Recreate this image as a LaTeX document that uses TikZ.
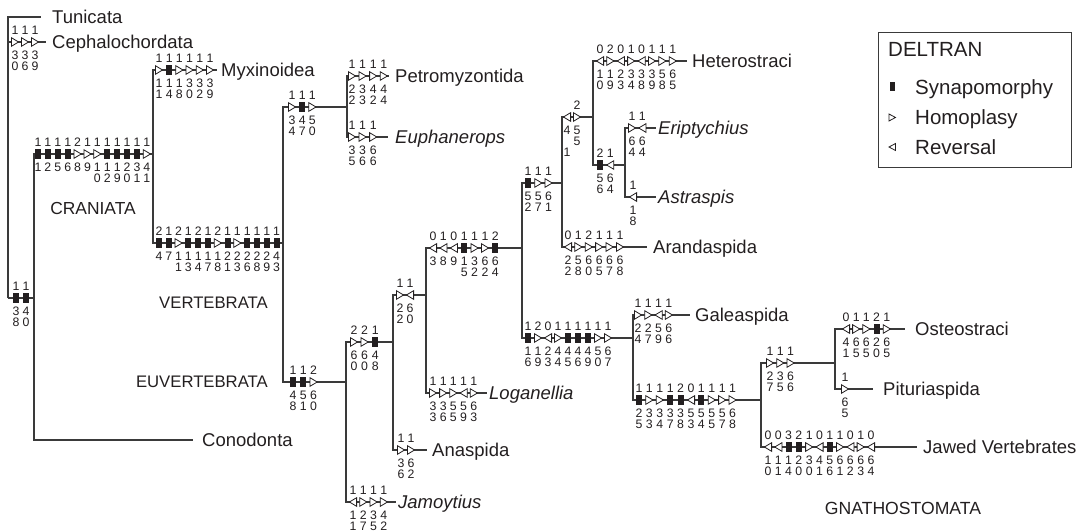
\documentclass[tikz,border=0pt]{standalone}
\usepackage{fontspec}
\setmainfont{Liberation Sans}
\definecolor{ink}{HTML}{231F20}
\definecolor{linec}{HTML}{3A3A3A}
% character-state markers: synapomorphy, homoplasy, reversal
\newcommand\mkS[2]{\fill[mk] ({#1-3},{#2-5}) rectangle ({#1+3},{#2+5});}
\newcommand\mkH[2]{\filldraw[mko] ({#1-3.6},{#2-4.3}) -- ({#1+3.6},{#2}) -- ({#1-3.6},{#2+4.3}) -- cycle;}
\newcommand\mkR[2]{\filldraw[mko] ({#1+3.6},{#2-4.3}) -- ({#1-3.6},{#2}) -- ({#1+3.6},{#2+4.3}) -- cycle;}
% a run of markers along a branch: first x, y, spacing, list type/state/digit1/digit2
\newcommand\charrow[4]{%
  \foreach \mt/\ms/\ma/\mb [count=\k from 0] in {#4}{%
    \pgfmathsetmacro\xx{#1+#3*\k}%
    \csname mk\mt\endcsname{\xx}{#2}%
    \node[dig] at (\xx,{#2-12}) {\ms};%
    \node[dig] at (\xx,{#2+13}) {\ma};%
    \node[dig] at (\xx,{#2+24.5}) {\mb};%
  }}
\begin{document}
\begin{tikzpicture}[x=1pt,y=-1pt,
  ln/.style={line width=1.1pt,draw=linec},
  mk/.style={fill=ink},
  mko/.style={draw=ink,fill=white,line width=0.8pt,line join=miter},
  dig/.style={font=\fontsize{12.3}{12}\selectfont,inner sep=0pt,text height=8.8pt,text depth=0pt,text=ink},
  leaf/.style={anchor=west,inner sep=0pt,font=\fontsize{18.5}{20}\selectfont,text height=13.2pt,text depth=0pt,text=ink},
  taxon/.style={leaf,font=\fontsize{18.5}{20}\selectfont\itshape},
  clade/.style={inner sep=0pt,font=\fontsize{17.4}{18}\selectfont,text height=12.5pt,text depth=0pt,text=ink},
  legtxt/.style={anchor=west,inner sep=0pt,font=\fontsize{20.5}{22}\selectfont,text height=14.6pt,text depth=0pt,text=ink}]
\useasboundingbox (0,0) rectangle (1086,532);

% internal nodes of the tree
\coordinate (root) at (8,298);
\coordinate (n1) at (34,298);
\coordinate (n2) at (153,154);
\coordinate (n3) at (283,243);
\coordinate (n4) at (347,107);
\coordinate (n5) at (346,382);
\coordinate (n6) at (393,342);
\coordinate (n7) at (426,295);
\coordinate (n8) at (522,248);
\coordinate (n9) at (562,183);
\coordinate (n10) at (593,117);
\coordinate (n11) at (625,165);
\coordinate (n12) at (633,338);
\coordinate (n13) at (761,400);
\coordinate (n14) at (835,363);

% terminal taxa
\node[leaf] (tun) at (52,17) {Tunicata};
\node[leaf] (ceph) at (52,42) {Cephalochordata};
\node[leaf] (myx) at (221,70) {Myxinoidea};
\node[leaf] (petro) at (395,76) {Petromyzontida};
\node[taxon] (euph) at (395,137) {Euphanerops};
\node[leaf] (cono) at (202,440) {Conodonta};
\node[taxon] (jam) at (398,502) {Jamoytius};
\node[leaf] (anas) at (432,450) {Anaspida};
\node[taxon] (logan) at (489,393) {Loganellia};
\node[leaf] (hetero) at (692,61) {Heterostraci};
\node[taxon] (eript) at (658,128) {Eriptychius};
\node[taxon] (astra) at (658,197) {Astraspis};
\node[leaf] (arand) at (653,247) {Arandaspida};
\node[leaf] (galea) at (695,315) {Galeaspida};
\node[leaf] (osteo) at (915,329) {Osteostraci};
\node[leaf] (pitu) at (883,389) {Pituriaspida};
\node[leaf] (jawed) at (923,447) {Jawed Vertebrates};

% clade names
\node[clade] (lcran) at (93,208) {CRANIATA};
\node[clade,anchor=east,font=\fontsize{16.7}{18}\selectfont] (lvert) at (268,302) {VERTEBRATA};
\node[clade,anchor=east,font=\fontsize{16.7}{18}\selectfont] (leuv) at (268,381) {EUVERTEBRATA};
\node[clade,font=\fontsize{17.6}{18}\selectfont] (lgna) at (903,508) {GNATHOSTOMATA};

% branches
\draw[ln] (root) |- ([xshift=-11pt]tun.west);
\draw[ln] (root) |- ([xshift=-6pt]ceph.west);
\draw[ln] (root) -- (n1);
\draw[ln] (n1) |- (n2);
\draw[ln] (n1) |- ([xshift=-9pt]cono.west);
\draw[ln] (n2) |- ([xshift=-4pt]myx.west);
\draw[ln] (n2) |- (n3);
\draw[ln] (n3) |- (n4);
\draw[ln] (n3) |- (n5);
\draw[ln] (n4) |- ([xshift=-6pt]petro.west);
\draw[ln] (n4) |- ([xshift=-7pt]euph.west);
\draw[ln] (n5) |- (n6);
\draw[ln] (n5) |- ([xshift=-2pt]jam.west);
\draw[ln] (n6) |- (n7);
\draw[ln] (n6) |- ([xshift=-5pt]anas.west);
\draw[ln] (n7) |- (n8);
\draw[ln] (n7) |- ([xshift=-2pt]logan.west);
\draw[ln] (n8) |- (n9);
\draw[ln] (n8) |- (n12);
\draw[ln] (n9) |- (n10);
\draw[ln] (n9) |- ([xshift=-6pt]arand.west);
\draw[ln] (n10) |- ([xshift=-5pt]hetero.west);
\draw[ln] (n10) |- (n11);
\draw[ln] (n11) |- ([xshift=-2pt]eript.west);
\draw[ln] (n11) |- ([xshift=-2pt]astra.west);
\draw[ln] (n12) |- ([xshift=-5pt]galea.west);
\draw[ln] (n12) |- (n13);
\draw[ln] (n13) |- (n14);
\draw[ln] (n13) |- ([xshift=-6pt]jawed.west);
\draw[ln] (n14) |- ([xshift=-10pt]osteo.west);
\draw[ln] (n14) |- ([xshift=-10pt]pitu.west);

% character changes on each branch
\charrow{16}{298}{10}{S/1/3/8, S/1/4/0}
\charrow{15}{42}{10}{H/1/3/0, H/1/3/6, H/1/3/9}
\charrow{38}{154}{9.9}{S/1/1/{}, S/1/2/{}, S/1/5/{}, S/1/6/{}, H/2/8/{}, H/1/9/{}, H/1/1/0, S/1/1/2, S/1/1/9, S/1/2/0, S/1/3/1, H/1/4/1}
\charrow{159}{70}{10.2}{H/1/1/1, S/1/1/4, H/1/1/8, H/1/3/0, H/1/3/2, H/1/3/9}
\charrow{159}{243}{9.8}{S/2/4/{}, S/1/7/{}, H/2/1/1, S/1/1/3, S/2/1/4, S/1/1/7, H/2/1/8, S/1/2/1, H/1/2/3, S/1/2/6, S/1/2/8, S/1/2/9, S/1/4/3}
\charrow{292}{107}{10.2}{H/1/3/4, S/1/4/7, H/1/5/0}
\charrow{352}{76}{10.6}{H/1/2/2, H/1/3/3, H/1/4/2, H/1/4/4}
\charrow{352}{137}{10.6}{H/1/3/5, H/1/3/6, H/1/6/6}
\charrow{293}{382}{10.3}{S/1/4/8, S/1/5/1, H/2/6/0}
\charrow{354}{342}{10.6}{H/2/6/0, H/2/6/0, S/1/4/8}
\charrow{353}{502}{10.3}{R/1/1/1, H/1/2/7, H/1/3/5, H/1/4/2}
\charrow{400}{295}{10}{H/1/2/2, R/1/6/0}
\charrow{401}{450}{10}{H/1/3/6, H/1/6/2}
\charrow{433}{248}{10.4}{R/0/3/{}, R/1/8/{}, R/0/9/{}, S/1/1/5, H/1/3/2, H/1/6/2, S/2/6/4}
\charrow{433}{393}{10.2}{H/1/3/3, H/1/3/6, H/1/5/5, R/1/5/9, H/1/6/3}
\charrow{528}{183}{10.3}{S/1/5/2, H/1/5/7, H/1/6/1}
\charrow{567}{117}{10}{R/{}/4/{}, H/2/5/5}
\node[dig] (extra1) at (567,152) {1};
\charrow{600}{61}{10.4}{R/0/1/0, H/2/1/9, R/0/2/3, H/1/3/4, R/0/3/8, H/1/3/9, H/1/5/8, H/1/6/5}
\charrow{600}{165}{10.2}{S/2/5/6, R/1/6/4}
\charrow{632}{128}{10.3}{H/1/6/4, R/1/6/4}
\charrow{633}{197}{10}{R/1/1/8}
\charrow{568}{247}{10.4}{R/0/2/2, H/1/5/8, H/2/6/0, H/1/6/5, H/1/6/7, H/1/6/8}
\charrow{528}{338}{10}{S/1/1/6, H/2/1/9, R/0/2/3, H/1/4/4, S/1/4/5, S/1/4/6, S/1/4/9, H/1/5/0, H/1/6/7}
\charrow{638}{315}{10.3}{H/1/2/4, H/1/2/7, R/1/5/9, H/1/6/6}
\charrow{639}{400}{10.4}{S/1/2/5, H/1/3/3, H/1/3/4, S/1/3/7, S/2/3/8, R/0/5/3, S/1/5/4, H/1/5/5, H/1/5/7, H/1/6/8}
\charrow{770}{363}{10.3}{H/1/2/7, H/1/3/5, H/1/6/6}
\charrow{846}{329}{10.2}{R/0/4/1, H/1/6/5, H/1/6/5, S/2/2/0, H/1/6/5}
\charrow{845}{389}{10}{H/1/6/5}
\charrow{768}{447}{10.3}{R/0/1/0, R/0/1/1, S/3/1/4, S/2/2/0, H/1/3/0, R/0/4/1, S/1/5/6, H/1/6/1, R/0/6/2, H/1/6/3, R/0/6/4}

% legend
\draw[line width=0.9pt,draw=linec] (878,32) rectangle (1071,167);
\node[legtxt] (ltitle) at (888,49) {DELTRAN};
\fill[mk] (889.5,82.5) rectangle (894.5,91.5);
\filldraw[mko] (889,114) -- (895.5,117.5) -- (889,121) -- cycle;
\filldraw[mko] (895.5,143.5) -- (889,147) -- (895.5,150.5) -- cycle;
\node[legtxt] (lsyn) at (915,87) {Synapomorphy};
\node[legtxt] (lhom) at (915,117) {Homoplasy};
\node[legtxt] (lrev) at (915,147) {Reversal};
\end{tikzpicture}
\end{document}
